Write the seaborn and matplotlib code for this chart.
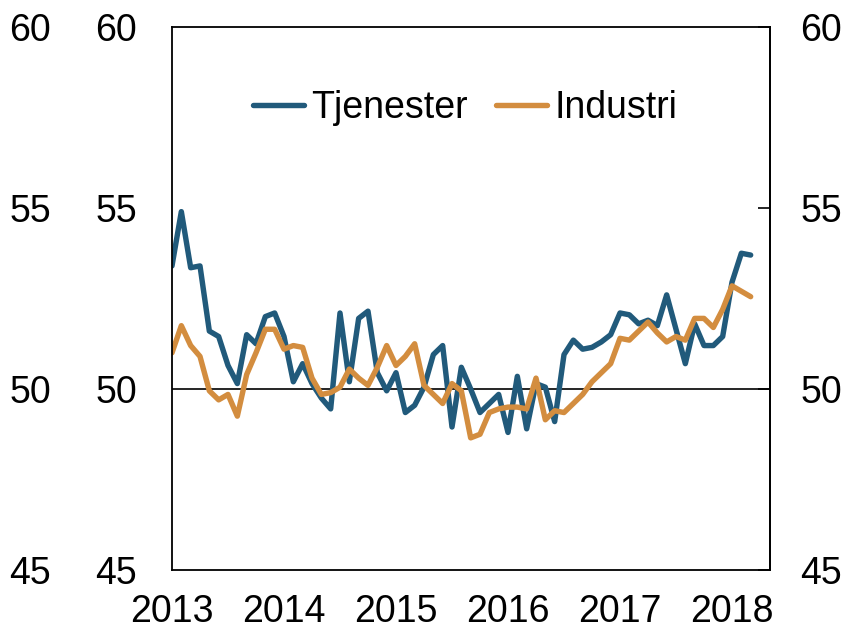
import numpy as np
import pandas as pd
import seaborn as sns
import matplotlib.pyplot as plt

# monthly PMI values, Jan 2013 - Mar 2018
tjenester = [53.4, 54.9, 53.35, 53.4, 51.6, 51.45, 50.65, 50.15, 51.5, 51.25, 52.0, 52.1,
             51.45, 50.2, 50.7, 50.15, 49.75, 49.45, 52.1, 50.2, 51.95, 52.15, 50.45, 49.95,
             50.45, 49.35, 49.55, 50.05, 50.95, 51.2, 48.95, 50.6, 50.0, 49.35, 49.6, 49.85,
             48.8, 50.35, 48.9, 50.15, 50.05, 49.1, 50.95, 51.35, 51.1, 51.15, 51.3, 51.5,
             52.1, 52.05, 51.8, 51.9, 51.75, 52.6, 51.65, 50.7, 51.8, 51.2, 51.2, 51.45,
             52.95, 53.75, 53.7]
industri = [51.0, 51.75, 51.2, 50.9, 49.95, 49.7, 49.85, 49.25, 50.4, 51.0, 51.65, 51.65,
            51.1, 51.2, 51.15, 50.3, 49.85, 49.9, 50.05, 50.55, 50.3, 50.1, 50.6, 51.2,
            50.65, 50.9, 51.25, 50.1, 49.85, 49.6, 50.15, 49.95, 48.65, 48.75, 49.35, 49.45,
            49.5, 49.5, 49.45, 50.3, 49.15, 49.4, 49.35, 49.6, 49.85, 50.2, 50.45, 50.7,
            51.4, 51.35, 51.6, 51.85, 51.55, 51.3, 51.45, 51.35, 51.95, 51.95, 51.7, 52.2,
            52.85, 52.7, 52.55]
years = [2013, 2014, 2015, 2016, 2017, 2018]
yticks = [45, 50, 55, 60]

x = 2013 + np.arange(len(tjenester)) / 12
df = pd.DataFrame({
    "x": np.concatenate([x, x]),
    "verdi": tjenester + industri,
    "serie": ["Tjenester"] * len(tjenester) + ["Industri"] * len(industri),
})

sns.set_style("white")
plt.rcParams["font.family"] = ["Liberation Sans", "DejaVu Sans"]
plt.rcParams["text.color"] = "black"
plt.rcParams["xtick.color"] = "black"
plt.rcParams["ytick.color"] = "black"
fs = 27

fig = plt.figure(figsize=(8.46, 6.29), dpi=100)
ax = fig.add_axes([172 / 846, 1 - 570 / 629, 598 / 846, 543 / 629])

colors = {"Tjenester": "#215A7B", "Industri": "#D38D3F"}
sns.lineplot(data=df, x="x", y="verdi", hue="serie", palette=colors,
             linewidth=3.9, ax=ax, legend=False)

ax.axhline(50, color="black", linewidth=1.2, zorder=1)
ax.set_xlim(2013, 2013 + 598 / 112)
ax.set_ylim(45, 60)
ax.set_xticks(years)
ax.set_yticks(yticks)
ax.set_xlabel("")
ax.set_ylabel("")
for s in ax.spines.values():
    s.set_color("black")
    s.set_linewidth(1.3)
ax.tick_params(axis="both", direction="in", length=8.5, width=1.2, color="black",
               labelsize=fs, labelcolor="black")
ax.tick_params(axis="x", pad=17)
ax.tick_params(axis="y", pad=25)

# right axis
right = ax.secondary_yaxis("right")
right.set_yticks(yticks)
right.tick_params(direction="in", length=8.5, width=1.2, labelsize=fs, pad=22,
                  color="black", labelcolor="black")
right.spines["right"].set_linewidth(1.3)
right.spines["right"].set_color("black")

# extra labels further left
left2 = ax.secondary_yaxis("left")
left2.set_yticks(yticks)
left2.tick_params(length=0, labelsize=fs, pad=87, labelcolor="black")
left2.spines["left"].set_visible(False)

handles = [plt.Line2D([], [], color=colors[k], linewidth=3.9) for k in ["Tjenester", "Industri"]]
ax.legend(handles, ["Tjenester", "Industri"], loc="center", bbox_to_anchor=(0.49, 0.85),
          ncol=2, frameon=False, fontsize=fs, handlelength=1.35, handletextpad=0.2,
          columnspacing=0.75, labelcolor="black")

fig.savefig("out.png", dpi=100)
